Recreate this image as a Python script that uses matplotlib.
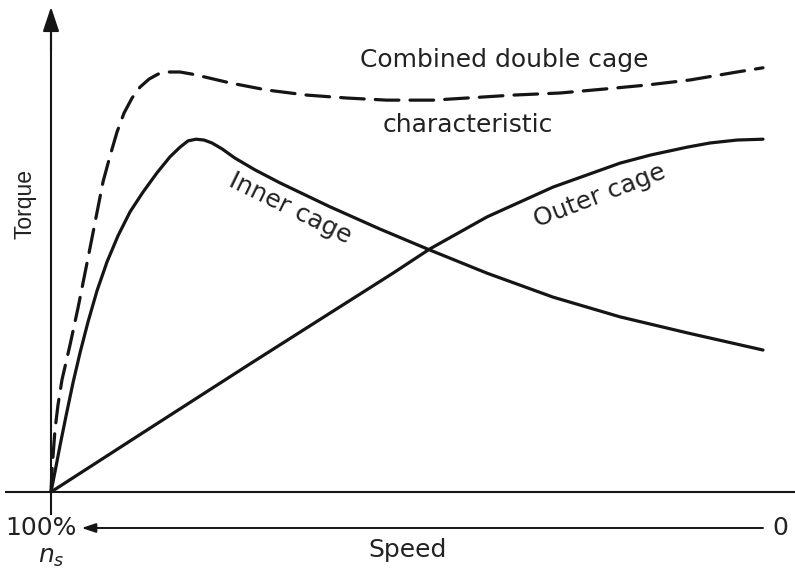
import matplotlib
matplotlib.use("Agg")
import matplotlib.pyplot as plt

plt.rcParams['lines.scale_dashes'] = False
plt.rcParams['mathtext.fontset'] = 'dejavusans'

# slip (0 = synchronous speed n_s, 1 = standstill) and torque (arbitrary %)
outer_s = [0, 0.139, 0.2795, 0.3919, 0.4803, 0.5323, 0.6124, 0.7051, 0.7992, 0.8413,
           0.8933, 0.9256, 0.9635, 1.0]
outer_T = [0, 15.2, 30.5, 42.6, 52.1, 57.9, 65.5, 72.6, 78.3, 80.2,
           82.1, 83.1, 83.8, 84.0]

inner_s = [0, 0.0056, 0.0126, 0.0211, 0.0309, 0.0407, 0.0520, 0.0646, 0.0787, 0.0941,
           0.1110, 0.1292, 0.1489, 0.1671, 0.1812, 0.1924, 0.2037, 0.2149, 0.2261,
           0.2402, 0.2584, 0.2865, 0.3216, 0.3919, 0.4621, 0.5323, 0.6124, 0.7051,
           0.7992, 0.8933, 1.0]
inner_T = [0, 4.8, 11.0, 18.1, 26.0, 33.1, 40.5, 47.9, 54.8, 61.0,
           66.7, 71.4, 76.0, 79.8, 82.1, 83.6, 84.0, 83.8, 83.1,
           81.7, 79.5, 76.7, 73.6, 67.9, 62.6, 57.6, 52.1, 46.4,
           41.7, 37.9, 33.8]

comb_s = [0, 0.0014, 0.0056, 0.0098, 0.0154, 0.0267, 0.0379, 0.0548, 0.0730, 0.0829,
          0.0927, 0.1025, 0.1138, 0.1250, 0.1376, 0.1503, 0.1643, 0.1812, 0.1980,
          0.2163, 0.2514, 0.3034, 0.3596, 0.4157, 0.4719, 0.5365, 0.6025, 0.6489,
          0.7149, 0.7809, 0.8371, 0.8975, 0.9635, 1.0]
comb_T = [0, 5.2, 14.8, 20.7, 26.7, 35.0, 43.8, 58.1, 73.8, 80.0,
          85.7, 90.2, 93.8, 96.4, 98.3, 99.5, 100.0, 100.0, 99.5,
          98.8, 97.4, 95.7, 94.5, 93.8, 93.3, 93.3, 94.0, 94.5,
          95.0, 96.0, 96.9, 98.1, 100.0, 101.0]

speed_left_label = "100%"
speed_right_label = "0"

ink = '#151515'
txt = '#222222'
FONT = 'DejaVu Sans'

fig = plt.figure(figsize=(7.95, 5.72), dpi=100)
ax = fig.add_axes([0, 0, 1, 1])
ax.set_xlim(-51 / 712, 744 / 712)
ax.set_ylim(-80 / 4.2, 492 / 4.2)
ax.axis('off')

# axes
ax.plot([-0.065, 1.05], [0, 0], color=ink, lw=1.5, solid_capstyle='butt')
ax.plot([0, 0], [-5.5, 110], color=ink, lw=1.5, solid_capstyle='butt')
ax.annotate('', xy=(0, 115.5), xytext=(0, 105),
            arrowprops=dict(arrowstyle='-|>,head_length=0.75,head_width=0.25',
                            color=ink, lw=1.5, mutation_scale=20,
                            shrinkA=0, shrinkB=0))

# curves
ax.plot(outer_s, outer_T, color=ink, lw=2.3, solid_joinstyle='round', solid_capstyle='round')
ax.plot(inner_s, inner_T, color=ink, lw=2.3, solid_joinstyle='round', solid_capstyle='round')
ax.plot(comb_s, comb_T, color=ink, lw=2.3, linestyle=(0, (17, 8)),
        dash_capstyle='round', dash_joinstyle='round')

# speed arrow
ax.annotate('', xy=(0.043, -8.57), xytext=(1.0, -8.57),
            arrowprops=dict(arrowstyle='-|>,head_length=0.6,head_width=0.2',
                            color=ink, lw=1.4, mutation_scale=14,
                            shrinkA=0, shrinkB=0))

# labels
fs = 18
ax.text(0.636, 101.1, 'Combined double cage', fontsize=fs, family=FONT, color=txt,
        ha='center', va='baseline')
ax.text(0.586, 85.7, 'characteristic', fontsize=fs, family=FONT, color=txt,
        ha='center', va='baseline')
ax.text(0.336, 67.6, 'Inner cage', fontsize=fs, family=FONT, color=txt,
        ha='center', va='center', rotation=-26, rotation_mode='anchor')
ax.text(0.771, 70.5, 'Outer cage', fontsize=fs, family=FONT, color=txt,
        ha='center', va='center', rotation=21, rotation_mode='anchor')
ax.text(-0.0365, 68.6, 'Torque', fontsize=16.5, family='Liberation Sans', color=txt,
        ha='center', va='center', rotation=90)
ax.text(-0.0646, -8.57, speed_left_label, fontsize=fs, family=FONT, color=txt,
        ha='left', va='center')
ax.text(1.024, -8.57, speed_right_label, fontsize=fs, family=FONT, color=txt,
        ha='center', va='center')
ax.text(0.0, -15.5, r'$n_s$', fontsize=fs, color=txt, ha='center', va='center')
ax.text(0.501, -13.8, 'Speed', fontsize=fs, family=FONT, color=txt,
        ha='center', va='center')

fig.savefig('out.png', dpi=100, facecolor='white')
